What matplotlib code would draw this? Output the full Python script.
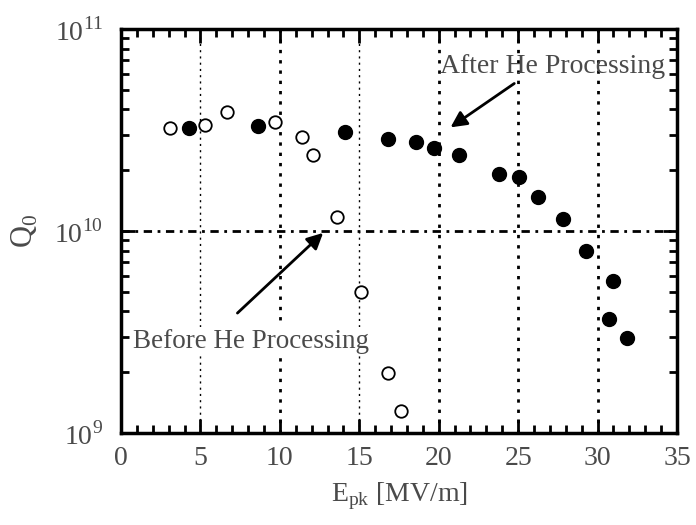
import numpy as np
import matplotlib.pyplot as plt
from matplotlib.ticker import FixedLocator, LogLocator, NullFormatter

plt.rcParams['font.family'] = ['Liberation Serif', 'DejaVu Serif']
plt.rcParams['mathtext.fontset'] = 'custom'
plt.rcParams['mathtext.rm'] = 'Liberation Serif'

# Antes do processamento com He (círculos abertos)
e_antes = [3.1, 5.3, 6.7, 9.7, 11.4, 12.1, 13.6, 15.1, 16.8, 17.6]
q_antes = [3.24e10, 3.35e10, 3.88e10, 3.47e10, 2.92e10, 2.38e10, 1.17e10, 5.0e9, 1.98e9, 1.28e9]

# Depois do processamento com He (círculos cheios)
e_depois = [4.3, 8.6, 14.1, 16.8, 18.6, 19.7, 21.3, 23.8, 25.05, 26.25, 27.8, 29.3, 31.0, 30.7, 31.85]
q_depois = [3.24e10, 3.31e10, 3.09e10, 2.85e10, 2.76e10, 2.58e10, 2.38e10, 1.92e10, 1.85e10,
            1.47e10, 1.15e10, 7.96e9, 5.65e9, 3.66e9, 2.95e9]

x_ticks = [0, 5, 10, 15, 20, 25, 30, 35]
y_ticks = [1e9, 1e10, 1e11]
y_labels = [r'$10^{9}$', r'$10^{10}$', r'$10^{11}$']

cinza = '#4a4a4a'

fig = plt.figure(figsize=(6.96, 5.25), dpi=100)
ax = fig.add_axes([0.1739, 0.1752, 0.7988, 0.7696])

ax.set_yscale('log')
ax.set_xlim(0, 35)
ax.set_ylim(1e9, 1e11)

# Grade
for xv in [5, 15]:
    ax.axvline(xv, color='black', lw=1.0, ls=(0, (1.5, 3)), zorder=1)
for xv in [10, 20, 25, 30]:
    ax.axvline(xv, color='black', lw=2.0, ls=(0, (1.2, 2.5)), zorder=1)
ax.axhline(1e10, color='black', lw=2.0, ls=(0, (3, 2, 1, 2)), zorder=1)

ax.plot(e_antes, q_antes, 'o', ms=9, mfc='white', mec='black', mew=1.3, zorder=3)
ax.plot(e_depois, q_depois, 'o', ms=10, mfc='black', mec='black', zorder=3)

# Anotações
ax.annotate('', xy=(20.6, 3.2e10), xytext=(24.9, 5.47e10),
            arrowprops=dict(arrowstyle='-|>', color='black', lw=2, mutation_scale=24))
ax.text(20.05, 6.5e10, 'After He Processing', fontsize=20, color=cinza, va='center', ha='left')
ax.annotate('', xy=(12.85, 1.0e10), xytext=(7.2, 3.84e9),
            arrowprops=dict(arrowstyle='-|>', color='black', lw=2, mutation_scale=24))
ax.text(0.75, 2.85e9, 'Before He Processing', fontsize=19.5, color=cinza, va='center', ha='left',
        bbox=dict(fc='white', ec='none', pad=1))

ax.xaxis.set_major_locator(FixedLocator(x_ticks))
ax.xaxis.set_minor_locator(FixedLocator(np.arange(0, 36, 1)))
ax.set_yticks(y_ticks)
ax.set_yticklabels(y_labels)
ax.yaxis.set_minor_locator(LogLocator(base=10, subs=np.arange(2, 10)))
ax.yaxis.set_minor_formatter(NullFormatter())

ax.tick_params(which='both', direction='in', top=True, right=True, labelsize=20,
               colors='black', labelcolor=cinza)
ax.tick_params(which='major', length=10, width=2)
ax.tick_params(which='minor', length=6, width=2)
ax.tick_params(axis='x', pad=9)
ax.tick_params(axis='y', pad=13)
for s in ax.spines.values():
    s.set_linewidth(2.5)

ax.set_xlabel(r'E$_{\mathrm{pk}}$ [MV/m]', fontsize=20, color=cinza, labelpad=7)
ax.set_ylabel(r'Q$_{0}$', fontsize=22, color=cinza, labelpad=10)

plt.savefig('out.png', dpi=100)
